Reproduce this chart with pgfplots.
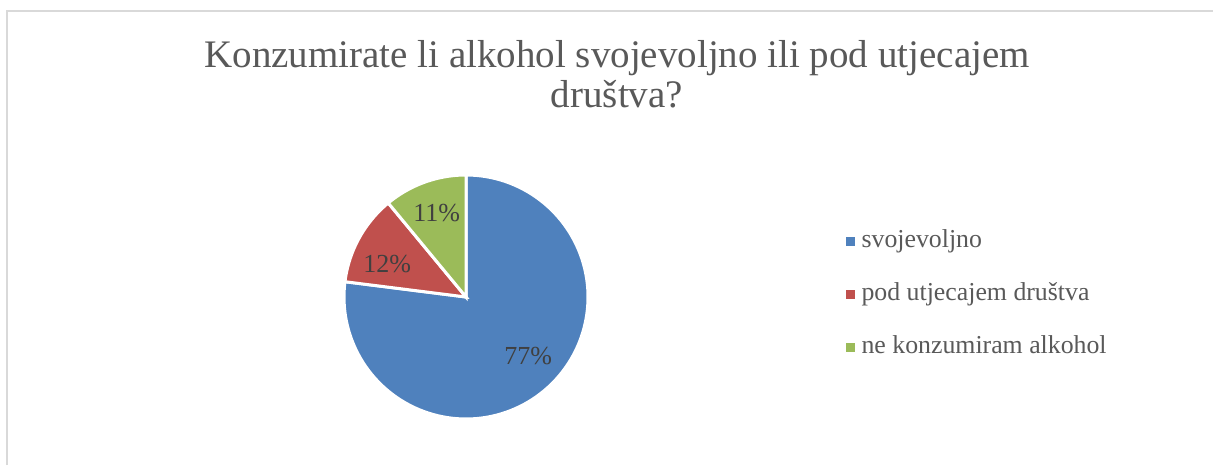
\documentclass[border=0pt]{standalone}
\usepackage{pgfplots}
\pgfplotsset{compat=1.18}
\usepackage{fontspec}
\setmainfont{Liberation Serif}

\definecolor{pieblue}{HTML}{4F81BD}
\definecolor{piered}{HTML}{C0504D}
\definecolor{piegreen}{HTML}{9BBB59}
\definecolor{titlegray}{HTML}{595959}
\definecolor{labelgray}{HTML}{404040}
\definecolor{framegray}{HTML}{D9D9D9}

% shares in percent
\def\vA{77}
\def\vB{12}
\def\vC{11}
% slice angles, starting at the top and going clockwise
\pgfmathsetmacro\aZ{90}
\pgfmathsetmacro\aA{\aZ-3.6*\vA}
\pgfmathsetmacro\aB{\aA-3.6*\vB}
\pgfmathsetmacro\aC{\aB-3.6*\vC}

\begin{document}
\begin{tikzpicture}[x=0.5pt,y=0.5pt]
  % picture in pixel units, y measured from the bottom
  \fill[white] (0,0) rectangle (1213,465);
  \draw[framegray, line width=0.6pt] (7,0) -- (7,454) -- (1213,454);

  \node[titlegray, font=\fontsize{19.5}{20}\selectfont, anchor=base]
    at (617,397) {Konzumirate li alkohol svojevoljno ili pod utjecajem};
  \node[titlegray, font=\fontsize{19.5}{20}\selectfont, anchor=base]
    at (617,357) {društva?};

  \begin{axis}[
    at={(233pt,84pt)}, anchor=center,
    x=61pt, y=61pt,
    xmin=-1.05, xmax=1.05, ymin=-1.05, ymax=1.05,
    hide axis,
    clip=false,
    legend style={
      at={(axis description cs:1.98,0.508)}, anchor=west,
      draw=none, fill=none, inner sep=0pt,
      row sep=14pt,
      font=\fontsize{12.9}{13}\selectfont,
      text=titlegray,
      nodes={inner sep=1pt, text height=8pt, text depth=2.5pt},
    },
    legend cell align=left,
    legend image code/.code={
      \fill[#1, draw=none] (0pt,-2pt) rectangle (4.5pt,2.5pt);
      \path[draw=none, fill=none] (0pt,0pt) -- (7pt,0pt);},
  ]
    \addplot[fill=pieblue, draw=white, line width=1.5pt,
      domain=\aA:\aZ, samples=120, variable=\t]
      ({cos(\t)},{sin(\t)}) -- (0,0) -- cycle;
    \addlegendentry{svojevoljno}
    \addplot[fill=piered, draw=white, line width=1.5pt,
      domain=\aB:\aA, samples=40, variable=\t]
      ({cos(\t)},{sin(\t)}) -- (0,0) -- cycle;
    \addlegendentry{pod utjecajem društva}
    \addplot[fill=piegreen, draw=white, line width=1.5pt,
      domain=\aC:\aB, samples=40, variable=\t]
      ({cos(\t)},{sin(\t)}) -- (0,0) -- cycle;
    \addlegendentry{ne konzumiram alkohol}

    \node[labelgray, font=\fontsize{13}{13}\selectfont] at (axis cs:0.51,-0.48) {\vA\%};
    \node[labelgray, font=\fontsize{13}{13}\selectfont] at (axis cs:-0.645,0.27) {\vB\%};
    \node[labelgray, font=\fontsize{13}{13}\selectfont] at (axis cs:-0.24,0.69) {\vC\%};
  \end{axis}

  \pgfresetboundingbox
  \useasboundingbox (0,0) rectangle (1213,465);
\end{tikzpicture}
\end{document}
